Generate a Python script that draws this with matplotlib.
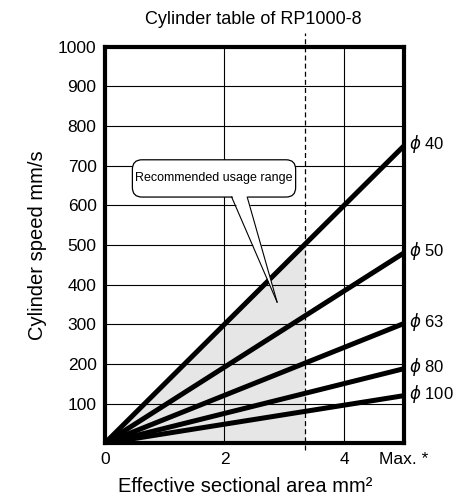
import matplotlib.pyplot as plt
from matplotlib.patches import FancyBboxPatch, Polygon
import numpy as np

plt.rcParams['font.family'] = ['Liberation Sans', 'DejaVu Sans']

# data
bores = ["40", "50", "63", "80", "100"]
speed_at_max = [750, 480, 302, 188, 120]
x_max = 5
x_limit = 3.35
xticks = [0, 2, 4, 5]
xtick_labels = ["0", "2", "4", "Max. *"]
yticks = [100, 200, 300, 400, 500, 600, 700, 800, 900, 1000]

fig = plt.figure(figsize=(4.6, 4.98), dpi=100)
ax = fig.add_axes([0.228, 0.110, 0.650, 0.796])
ax.set_xlim(0, 5)
ax.set_ylim(0, 1000)

# grid
for yv in yticks:
    ax.axhline(yv, color="black", lw=0.8, zorder=1)
for xv in [2, 4]:
    ax.axvline(xv, color="black", lw=0.8, zorder=1)

# shaded range under phi40 line
xs = np.array([0, x_limit])
ax.fill_between(xs, 0, xs * speed_at_max[0] / x_max, color="#e6e6e6", zorder=0.5, lw=0)
ax.plot([x_limit, x_limit], [-18, 1035], color="black", lw=0.9, ls=(0, (4, 2.5)),
        clip_on=False, zorder=2)

for b, v in zip(bores, speed_at_max):
    ax.plot([0, x_max], [0, v], color="black", lw=3.6, solid_capstyle="butt", zorder=3)
    ax.text(5.08, v + 5, r"$\phi$ " + b, fontsize=12, va="center", ha="left", clip_on=False)

# callout box + tail
asp = (1 / 0.396) / (1 / 60.0)
box = FancyBboxPatch((0.46, 621), 2.73, 94, boxstyle="round,pad=0,rounding_size=0.16",
                     mutation_aspect=asp, fc="white", ec="black", lw=0.9, zorder=5)
ax.add_patch(box)
tail = Polygon([(2.12, 628), (2.38, 628), (2.88, 356)], closed=True, fc="white",
               ec="none", zorder=6)
ax.add_patch(tail)
ax.plot([2.12, 2.88], [621, 356], color="black", lw=0.8, zorder=7)
ax.plot([2.38, 2.88], [621, 356], color="black", lw=0.8, zorder=7)
ax.text(1.825, 668, "Recommended usage range", fontsize=9, ha="center", va="center",
        zorder=8)

for s in ax.spines.values():
    s.set_linewidth(3)
    s.set_zorder(4)

ax.set_xticks(xticks)
ax.set_xticklabels(xtick_labels)
ax.set_yticks(yticks)
ax.tick_params(length=0, labelsize=12.5, pad=6)
ax.set_xlabel("Effective sectional area mm²", fontsize=14.5, labelpad=8)
ax.xaxis.set_label_coords(0.47, -0.085)
ax.set_ylabel("Cylinder speed mm/s", fontsize=14.5, labelpad=8)
fig.text(0.55, 0.96, "Cylinder table of RP1000-8", fontsize=13, ha="center", va="center")

fig.savefig("out.png", dpi=100)
